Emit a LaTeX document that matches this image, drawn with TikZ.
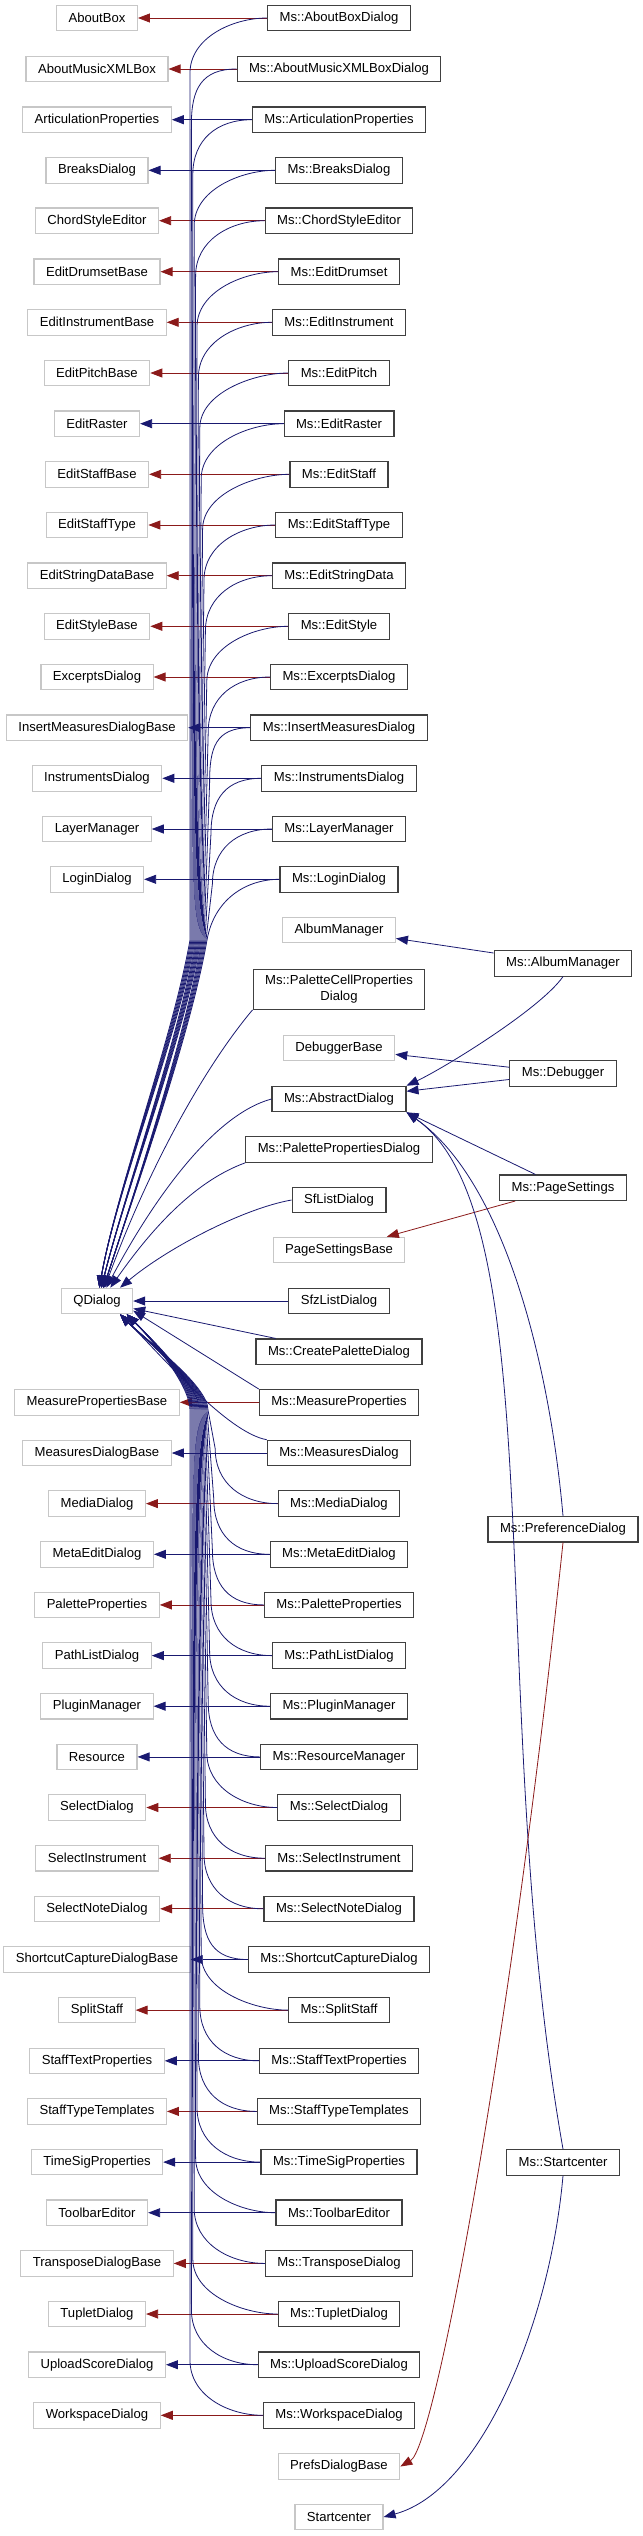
\documentclass[tikz,border=0pt]{standalone}
\usepackage{fontspec}
\setmainfont{Liberation Sans}
\usetikzlibrary{positioning,arrows.meta,calc}
\definecolor{inhblue}{HTML}{191970}
\definecolor{inhred}{HTML}{8B1A1A}

\begin{document}
\begin{tikzpicture}[
        x=1bp, y=1bp,
        >={Triangle[length=12bp,width=9bp]},
        every node/.style={font=\fontsize{13.1bp}{16bp}\selectfont, inner xsep=12bp, inner ysep=0pt, minimum height=25.5bp, fill=white},
        docclass/.style={draw=black!75, line width=1.1bp},
        extclass/.style={draw=black!22, line width=1.1bp},
        pubflow/.style={->, draw=inhblue, line width=0.8bp},
        privflow/.style={->, draw=inhred, line width=0.8bp}
    ]
        \useasboundingbox (0,0) rectangle (643,-2536);

        % base classes, left column
        \node[extclass] (aboutbox) at (97,-18) {AboutBox};
        \node[extclass] (aboutxml) at (97,-69) {AboutMusicXMLBox};
        \node[extclass] (articprops) at (97,-119.7) {ArticulationProperties};
        \node[extclass] (breaks) at (97,-170.3) {BreaksDialog};
        \node[extclass] (chordstyle) at (97,-220.7) {ChordStyleEditor};
        \node[extclass] (drumsetbase) at (97,-271.7) {EditDrumsetBase};
        \node[extclass] (instrbase) at (97,-322.3) {EditInstrumentBase};
        \node[extclass] (pitchbase) at (97,-373) {EditPitchBase};
        \node[extclass] (raster) at (97,-423.7) {EditRaster};
        \node[extclass] (staffbase) at (97,-474.3) {EditStaffBase};
        \node[extclass] (stafftype) at (97,-525) {EditStaffType};
        \node[extclass] (stringbase) at (97,-575.7) {EditStringDataBase};
        \node[extclass] (stylebase) at (97,-626.3) {EditStyleBase};
        \node[extclass] (excerpts) at (97,-677) {ExcerptsDialog};
        \node[extclass] (insertbase) at (97,-727.7) {InsertMeasuresDialogBase};
        \node[extclass] (instruments) at (97,-778.3) {InstrumentsDialog};
        \node[extclass] (layer) at (97,-829) {LayerManager};
        \node[extclass] (login) at (97,-879.3) {LoginDialog};
        \node[extclass] (qdialog) at (97,-1301) {QDialog};
        \node[extclass] (measpropbase) at (97,-1402.3) {MeasurePropertiesBase};
        \node[extclass] (measdlgbase) at (97,-1453) {MeasuresDialogBase};
        \node[extclass] (media) at (97,-1503.6) {MediaDialog};
        \node[extclass] (metaedit) at (97,-1554.3) {MetaEditDialog};
        \node[extclass] (paletteprops) at (97,-1604.9) {PaletteProperties};
        \node[extclass] (pathlist) at (97,-1655.6) {PathListDialog};
        \node[extclass] (plugin) at (97,-1706.2) {PluginManager};
        \node[extclass] (resource) at (97,-1756.9) {Resource};
        \node[extclass] (select) at (97,-1807.5) {SelectDialog};
        \node[extclass] (selinstr) at (97,-1858.2) {SelectInstrument};
        \node[extclass] (selnote) at (97,-1908.8) {SelectNoteDialog};
        \node[extclass] (shortcutbase) at (97,-1959.5) {ShortcutCaptureDialogBase};
        \node[extclass] (splitstaff) at (97,-2010.1) {SplitStaff};
        \node[extclass] (stafftext) at (97,-2060.8) {StaffTextProperties};
        \node[extclass] (stafftypetpl) at (97,-2111.4) {StaffTypeTemplates};
        \node[extclass] (timesig) at (97,-2162.1) {TimeSigProperties};
        \node[extclass] (toolbar) at (97,-2212.7) {ToolbarEditor};
        \node[extclass] (transposebase) at (97,-2263.4) {TransposeDialogBase};
        \node[extclass] (tuplet) at (97,-2314) {TupletDialog};
        \node[extclass] (upload) at (97,-2364.7) {UploadScoreDialog};
        \node[extclass] (workspace) at (97,-2415.3) {WorkspaceDialog};

        % Ms classes, middle column
        \node[docclass] (msaboutbox) at (339,-18) {Ms::AboutBoxDialog};
        \node[docclass] (msaboutxml) at (339,-69) {Ms::AboutMusicXMLBoxDialog};
        \node[docclass] (msarticprops) at (339,-119.7) {Ms::ArticulationProperties};
        \node[docclass] (msbreaks) at (339,-170.3) {Ms::BreaksDialog};
        \node[docclass] (mschordstyle) at (339,-220.7) {Ms::ChordStyleEditor};
        \node[docclass] (msdrumset) at (339,-271.7) {Ms::EditDrumset};
        \node[docclass] (msinstr) at (339,-322.3) {Ms::EditInstrument};
        \node[docclass] (mspitch) at (339,-373) {Ms::EditPitch};
        \node[docclass] (msraster) at (339,-423.7) {Ms::EditRaster};
        \node[docclass] (msstaff) at (339,-474.3) {Ms::EditStaff};
        \node[docclass] (msstafftype) at (339,-525) {Ms::EditStaffType};
        \node[docclass] (msstring) at (339,-575.7) {Ms::EditStringData};
        \node[docclass] (msstyle) at (339,-626.3) {Ms::EditStyle};
        \node[docclass] (msexcerpts) at (339,-677) {Ms::ExcerptsDialog};
        \node[docclass] (msinsert) at (339,-727.7) {Ms::InsertMeasuresDialog};
        \node[docclass] (msinstruments) at (339,-778.3) {Ms::InstrumentsDialog};
        \node[docclass] (mslayer) at (339,-829) {Ms::LayerManager};
        \node[docclass] (mslogin) at (339,-879.3) {Ms::LoginDialog};
        \node[extclass] (albummgr) at (339,-930) {AlbumManager};
        \node[docclass, minimum height=40bp, align=center] (mspalcell) at (339,-989.3) {Ms::PaletteCellProperties\\Dialog};
        \node[extclass] (debugbase) at (339,-1048) {DebuggerBase};
        \node[docclass] (msabstract) at (339,-1099) {Ms::AbstractDialog};
        \node[docclass] (mspalprop) at (339,-1149.5) {Ms::PalettePropertiesDialog};
        \node[docclass] (sflist) at (339,-1200) {SfListDialog};
        \node[extclass] (pagesetbase) at (339,-1250) {PageSettingsBase};
        \node[docclass] (sfzlist) at (339,-1301) {SfzListDialog};
        \node[docclass] (mscreatepal) at (339,-1351.7) {Ms::CreatePaletteDialog};
        \node[docclass] (msmeasprop) at (339,-1402.3) {Ms::MeasureProperties};
        \node[docclass] (msmeasdlg) at (339,-1453) {Ms::MeasuresDialog};
        \node[docclass] (msmedia) at (339,-1503.6) {Ms::MediaDialog};
        \node[docclass] (msmetaedit) at (339,-1554.3) {Ms::MetaEditDialog};
        \node[docclass] (mspaletteprops) at (339,-1604.9) {Ms::PaletteProperties};
        \node[docclass] (mspathlist) at (339,-1655.6) {Ms::PathListDialog};
        \node[docclass] (msplugin) at (339,-1706.2) {Ms::PluginManager};
        \node[docclass] (msresource) at (339,-1756.9) {Ms::ResourceManager};
        \node[docclass] (msselect) at (339,-1807.5) {Ms::SelectDialog};
        \node[docclass] (msselinstr) at (339,-1858.2) {Ms::SelectInstrument};
        \node[docclass] (msselnote) at (339,-1908.8) {Ms::SelectNoteDialog};
        \node[docclass] (msshortcut) at (339,-1959.5) {Ms::ShortcutCaptureDialog};
        \node[docclass] (mssplitstaff) at (339,-2010.1) {Ms::SplitStaff};
        \node[docclass] (msstafftext) at (339,-2060.8) {Ms::StaffTextProperties};
        \node[docclass] (msstafftypetpl) at (339,-2111.4) {Ms::StaffTypeTemplates};
        \node[docclass] (mstimesig) at (339,-2162.1) {Ms::TimeSigProperties};
        \node[docclass] (mstoolbar) at (339,-2212.7) {Ms::ToolbarEditor};
        \node[docclass] (mstranspose) at (339,-2263.4) {Ms::TransposeDialog};
        \node[docclass] (mstuplet) at (339,-2314) {Ms::TupletDialog};
        \node[docclass] (msupload) at (339,-2364.7) {Ms::UploadScoreDialog};
        \node[docclass] (msworkspace) at (339,-2415.3) {Ms::WorkspaceDialog};
        \node[extclass] (prefsbase) at (339,-2466.5) {PrefsDialogBase};
        \node[extclass] (startcenter) at (339,-2517) {Startcenter};

        % right column
        \node[docclass] (msalbum) at (563,-963.3) {Ms::AlbumManager};
        \node[docclass] (msdebugger) at (563,-1073.3) {Ms::Debugger};
        \node[docclass] (mspagesettings) at (563,-1187.7) {Ms::PageSettings};
        \node[docclass] (mspref) at (563,-1529.2) {Ms::PreferenceDialog};
        \node[docclass] (msstart) at (563,-2162.3) {Ms::Startcenter};

        % where the bundles into QDialog gather
        \coordinate (qtop) at ([shift={(93,361)}]qdialog.center);
        \coordinate (qbottom) at ([shift={(93,-109)}]qdialog.center);

        % inheritance from the left bases
        \draw[privflow] (msaboutbox) -- (aboutbox);
        \draw[privflow] (msaboutxml) -- (aboutxml);
        \draw[pubflow] (msarticprops) -- (articprops);
        \draw[pubflow] (msbreaks) -- (breaks);
        \draw[privflow] (mschordstyle) -- (chordstyle);
        \draw[privflow] (msdrumset) -- (drumsetbase);
        \draw[privflow] (msinstr) -- (instrbase);
        \draw[privflow] (mspitch) -- (pitchbase);
        \draw[pubflow] (msraster) -- (raster);
        \draw[privflow] (msstaff) -- (staffbase);
        \draw[privflow] (msstafftype) -- (stafftype);
        \draw[privflow] (msstring) -- (stringbase);
        \draw[privflow] (msstyle) -- (stylebase);
        \draw[privflow] (msexcerpts) -- (excerpts);
        \draw[pubflow] (msinsert) -- (insertbase);
        \draw[pubflow] (msinstruments) -- (instruments);
        \draw[pubflow] (mslayer) -- (layer);
        \draw[pubflow] (mslogin) -- (login);
        \draw[privflow] (msmeasprop) -- (measpropbase);
        \draw[pubflow] (msmeasdlg) -- (measdlgbase);
        \draw[privflow] (msmedia) -- (media);
        \draw[pubflow] (msmetaedit) -- (metaedit);
        \draw[privflow] (mspaletteprops) -- (paletteprops);
        \draw[pubflow] (mspathlist) -- (pathlist);
        \draw[pubflow] (msplugin) -- (plugin);
        \draw[pubflow] (msresource) -- (resource);
        \draw[privflow] (msselect) -- (select);
        \draw[privflow] (msselinstr) -- (selinstr);
        \draw[privflow] (msselnote) -- (selnote);
        \draw[pubflow] (msshortcut) -- (shortcutbase);
        \draw[privflow] (mssplitstaff) -- (splitstaff);
        \draw[pubflow] (msstafftext) -- (stafftext);
        \draw[privflow] (msstafftypetpl) -- (stafftypetpl);
        \draw[pubflow] (mstimesig) -- (timesig);
        \draw[pubflow] (mstoolbar) -- (toolbar);
        \draw[privflow] (mstranspose) -- (transposebase);
        \draw[privflow] (mstuplet) -- (tuplet);
        \draw[pubflow] (msupload) -- (upload);
        \draw[privflow] (msworkspace) -- (workspace);

        % everything above QDialog
        \draw[pubflow] (msaboutbox.west) .. controls +(180:35) and +(90:35) .. ($(qtop |- msaboutbox.west)+(0,-55)$) -- ($(qtop)+(0,0)$) .. controls +(-100:100) and +(80:100) .. (qdialog.80);
        \draw[pubflow] (msaboutxml.west) .. controls +(180:35) and +(90:35) .. ($(qtop |- msaboutxml.west)+(1.4,-55)$) -- ($(qtop)+(1,0)$) .. controls +(-100:100) and +(80:100) .. (qdialog.80);
        \draw[pubflow] (msarticprops.west) .. controls +(180:35) and +(90:35) .. ($(qtop |- msarticprops.west)+(2.8,-55)$) -- ($(qtop)+(2,0)$) .. controls +(-100:100) and +(80:100) .. (qdialog.80);
        \draw[pubflow] (msbreaks.west) .. controls +(180:35) and +(90:35) .. ($(qtop |- msbreaks.west)+(4.2,-55)$) -- ($(qtop)+(3,0)$) .. controls +(-100:100) and +(80:100) .. (qdialog.80);
        \draw[pubflow] (mschordstyle.west) .. controls +(180:35) and +(90:35) .. ($(qtop |- mschordstyle.west)+(5.6,-55)$) -- ($(qtop)+(4,0)$) .. controls +(-100:100) and +(80:100) .. (qdialog.80);
        \draw[pubflow] (msdrumset.west) .. controls +(180:35) and +(90:35) .. ($(qtop |- msdrumset.west)+(7,-55)$) -- ($(qtop)+(5,0)$) .. controls +(-100:100) and +(80:100) .. (qdialog.80);
        \draw[pubflow] (msinstr.west) .. controls +(180:35) and +(90:35) .. ($(qtop |- msinstr.west)+(8.4,-55)$) -- ($(qtop)+(6,0)$) .. controls +(-100:100) and +(76:100) .. (qdialog.72);
        \draw[pubflow] (mspitch.west) .. controls +(180:35) and +(90:35) .. ($(qtop |- mspitch.west)+(9.8,-55)$) -- ($(qtop)+(7,0)$) .. controls +(-100:100) and +(76:100) .. (qdialog.72);
        \draw[pubflow] (msraster.west) .. controls +(180:35) and +(90:35) .. ($(qtop |- msraster.west)+(11.2,-55)$) -- ($(qtop)+(8,0)$) .. controls +(-100:100) and +(76:100) .. (qdialog.72);
        \draw[pubflow] (msstaff.west) .. controls +(180:35) and +(90:35) .. ($(qtop |- msstaff.west)+(12.6,-55)$) -- ($(qtop)+(9,0)$) .. controls +(-100:100) and +(76:100) .. (qdialog.72);
        \draw[pubflow] (msstafftype.west) .. controls +(180:35) and +(90:35) .. ($(qtop |- msstafftype.west)+(14,-55)$) -- ($(qtop)+(10,0)$) .. controls +(-100:100) and +(76:100) .. (qdialog.72);
        \draw[pubflow] (msstring.west) .. controls +(180:35) and +(90:35) .. ($(qtop |- msstring.west)+(15.4,-55)$) -- ($(qtop)+(11,0)$) .. controls +(-100:100) and +(76:100) .. (qdialog.72);
        \draw[pubflow] (msstyle.west) .. controls +(180:35) and +(90:35) .. ($(qtop |- msstyle.west)+(16.8,-55)$) -- ($(qtop)+(12,0)$) .. controls +(-100:100) and +(72:100) .. (qdialog.64);
        \draw[pubflow] (msexcerpts.west) .. controls +(180:35) and +(90:35) .. ($(qtop |- msexcerpts.west)+(18.2,-55)$) -- ($(qtop)+(13,0)$) .. controls +(-100:100) and +(72:100) .. (qdialog.64);
        \draw[pubflow] (msinsert.west) .. controls +(180:35) and +(90:35) .. ($(qtop |- msinsert.west)+(19.6,-55)$) -- ($(qtop)+(14,0)$) .. controls +(-100:100) and +(72:100) .. (qdialog.64);
        \draw[pubflow] (msinstruments.west) .. controls +(180:35) and +(90:35) .. ($(qtop |- msinstruments.west)+(21,-55)$) -- ($(qtop)+(15,0)$) .. controls +(-100:100) and +(72:100) .. (qdialog.64);
        \draw[pubflow] (mslayer.west) .. controls +(180:35) and +(90:35) .. ($(qtop |- mslayer.west)+(22.4,-55)$) -- ($(qtop)+(16,0)$) .. controls +(-100:100) and +(72:100) .. (qdialog.64);
        \draw[pubflow] (mslogin.west) .. controls +(180:35) and +(80:40) .. ($(qtop)+(17,0)$) .. controls +(-100:100) and +(72:100) .. (qdialog.64);
        \draw[pubflow] (mspalcell.south west) .. controls +(-130:80) and +(70:120) .. (qdialog.60);
        \draw[pubflow] (msabstract.west) .. controls +(195:60) and +(62:100) .. (qdialog.55);
        \draw[pubflow] (mspalprop.south west) .. controls +(200:50) and +(55:80) .. (qdialog.45);
        \draw[pubflow] (sflist.west) .. controls +(190:50) and +(40:60) .. (qdialog.30);
        \draw[pubflow] (sfzlist) -- (qdialog);
        \draw[pubflow] (mscreatepal) -- (qdialog);

        % everything below QDialog
        \draw[pubflow] (msmeasprop.north west) -- (qdialog.-15);
        \draw[pubflow] (msmeasdlg.north west) .. controls +(170:40) and +(-45:60) .. (qdialog.-30);
        \draw[pubflow] (msmedia.west) .. controls +(180:35) and +(-90:35) .. ($(qbottom |- msmedia.west)+(25.2,55)$) -- ($(qbottom)+(18,0)$) .. controls +(90:25) and +(-45:35) .. (qdialog.-30);
        \draw[pubflow] (msmetaedit.west) .. controls +(180:35) and +(-90:35) .. ($(qbottom |- msmetaedit.west)+(23.8,55)$) -- ($(qbottom)+(17,0)$) .. controls +(90:25) and +(-45:35) .. (qdialog.-30);
        \draw[pubflow] (mspaletteprops.west) .. controls +(180:35) and +(-90:35) .. ($(qbottom |- mspaletteprops.west)+(22.4,55)$) -- ($(qbottom)+(16,0)$) .. controls +(90:25) and +(-45:35) .. (qdialog.-30);
        \draw[pubflow] (mspathlist.west) .. controls +(180:35) and +(-90:35) .. ($(qbottom |- mspathlist.west)+(21,55)$) -- ($(qbottom)+(15,0)$) .. controls +(90:25) and +(-45:35) .. (qdialog.-30);
        \draw[pubflow] (msplugin.west) .. controls +(180:35) and +(-90:35) .. ($(qbottom |- msplugin.west)+(19.6,55)$) -- ($(qbottom)+(14,0)$) .. controls +(90:25) and +(-45:35) .. (qdialog.-30);
        \draw[pubflow] (msresource.west) .. controls +(180:35) and +(-90:35) .. ($(qbottom |- msresource.west)+(18.2,55)$) -- ($(qbottom)+(13,0)$) .. controls +(90:25) and +(-45:35) .. (qdialog.-30);
        \draw[pubflow] (msselect.west) .. controls +(180:35) and +(-90:35) .. ($(qbottom |- msselect.west)+(16.8,55)$) -- ($(qbottom)+(12,0)$) .. controls +(90:25) and +(-45:35) .. (qdialog.-30);
        \draw[pubflow] (msselinstr.west) .. controls +(180:35) and +(-90:35) .. ($(qbottom |- msselinstr.west)+(15.4,55)$) -- ($(qbottom)+(11,0)$) .. controls +(90:25) and +(-45:35) .. (qdialog.-30);
        \draw[pubflow] (msselnote.west) .. controls +(180:35) and +(-90:35) .. ($(qbottom |- msselnote.west)+(14,55)$) -- ($(qbottom)+(10,0)$) .. controls +(90:25) and +(-45:35) .. (qdialog.-30);
        \draw[pubflow] (msshortcut.west) .. controls +(180:35) and +(-90:35) .. ($(qbottom |- msshortcut.west)+(12.6,55)$) -- ($(qbottom)+(9,0)$) .. controls +(90:25) and +(-45:35) .. (qdialog.-24);
        \draw[pubflow] (mssplitstaff.west) .. controls +(180:35) and +(-90:35) .. ($(qbottom |- mssplitstaff.west)+(11.2,55)$) -- ($(qbottom)+(8,0)$) .. controls +(90:25) and +(-45:35) .. (qdialog.-24);
        \draw[pubflow] (msstafftext.west) .. controls +(180:35) and +(-90:35) .. ($(qbottom |- msstafftext.west)+(9.8,55)$) -- ($(qbottom)+(7,0)$) .. controls +(90:25) and +(-45:35) .. (qdialog.-24);
        \draw[pubflow] (msstafftypetpl.west) .. controls +(180:35) and +(-90:35) .. ($(qbottom |- msstafftypetpl.west)+(8.4,55)$) -- ($(qbottom)+(6,0)$) .. controls +(90:25) and +(-45:35) .. (qdialog.-24);
        \draw[pubflow] (mstimesig.west) .. controls +(180:35) and +(-90:35) .. ($(qbottom |- mstimesig.west)+(7,55)$) -- ($(qbottom)+(5,0)$) .. controls +(90:25) and +(-45:35) .. (qdialog.-24);
        \draw[pubflow] (mstoolbar.west) .. controls +(180:35) and +(-90:35) .. ($(qbottom |- mstoolbar.west)+(5.6,55)$) -- ($(qbottom)+(4,0)$) .. controls +(90:25) and +(-45:35) .. (qdialog.-24);
        \draw[pubflow] (mstranspose.west) .. controls +(180:35) and +(-90:35) .. ($(qbottom |- mstranspose.west)+(4.2,55)$) -- ($(qbottom)+(3,0)$) .. controls +(90:25) and +(-45:35) .. (qdialog.-24);
        \draw[pubflow] (mstuplet.west) .. controls +(180:35) and +(-90:35) .. ($(qbottom |- mstuplet.west)+(2.8,55)$) -- ($(qbottom)+(2,0)$) .. controls +(90:25) and +(-45:35) .. (qdialog.-24);
        \draw[pubflow] (msupload.west) .. controls +(180:35) and +(-90:35) .. ($(qbottom |- msupload.west)+(1.4,55)$) -- ($(qbottom)+(1,0)$) .. controls +(90:25) and +(-45:35) .. (qdialog.-24);
        \draw[pubflow] (msworkspace.west) .. controls +(180:35) and +(-90:35) .. ($(qbottom |- msworkspace.west)+(0,55)$) -- ($(qbottom)+(0,0)$) .. controls +(90:25) and +(-45:35) .. (qdialog.-24);

        % the right column
        \draw[pubflow] (msalbum) -- (albummgr);
        \draw[pubflow] (msalbum.south) .. controls +(-125:40) and +(25:40) .. (msabstract.north east);
        \draw[pubflow] (msdebugger) -- (debugbase);
        \draw[pubflow] (msdebugger) -- (msabstract);
        \draw[privflow] (mspagesettings) -- (pagesetbase);
        \draw[pubflow] (mspagesettings) -- (msabstract.south east);
        \draw[pubflow] (mspref.north) .. controls +(95:150) and +(-35:120) .. (msabstract.south east);
        \draw[pubflow] (msstart.north) .. controls +(100:450) and +(-35:180) .. (msabstract.south east);
        \draw[privflow] (mspref.south) .. controls +(-96:500) and +(30:40) .. (prefsbase.east);
        \draw[pubflow] (msstart.south) .. controls +(-95:150) and +(15:100) .. (startcenter.east);
    \end{tikzpicture}
\end{document}
